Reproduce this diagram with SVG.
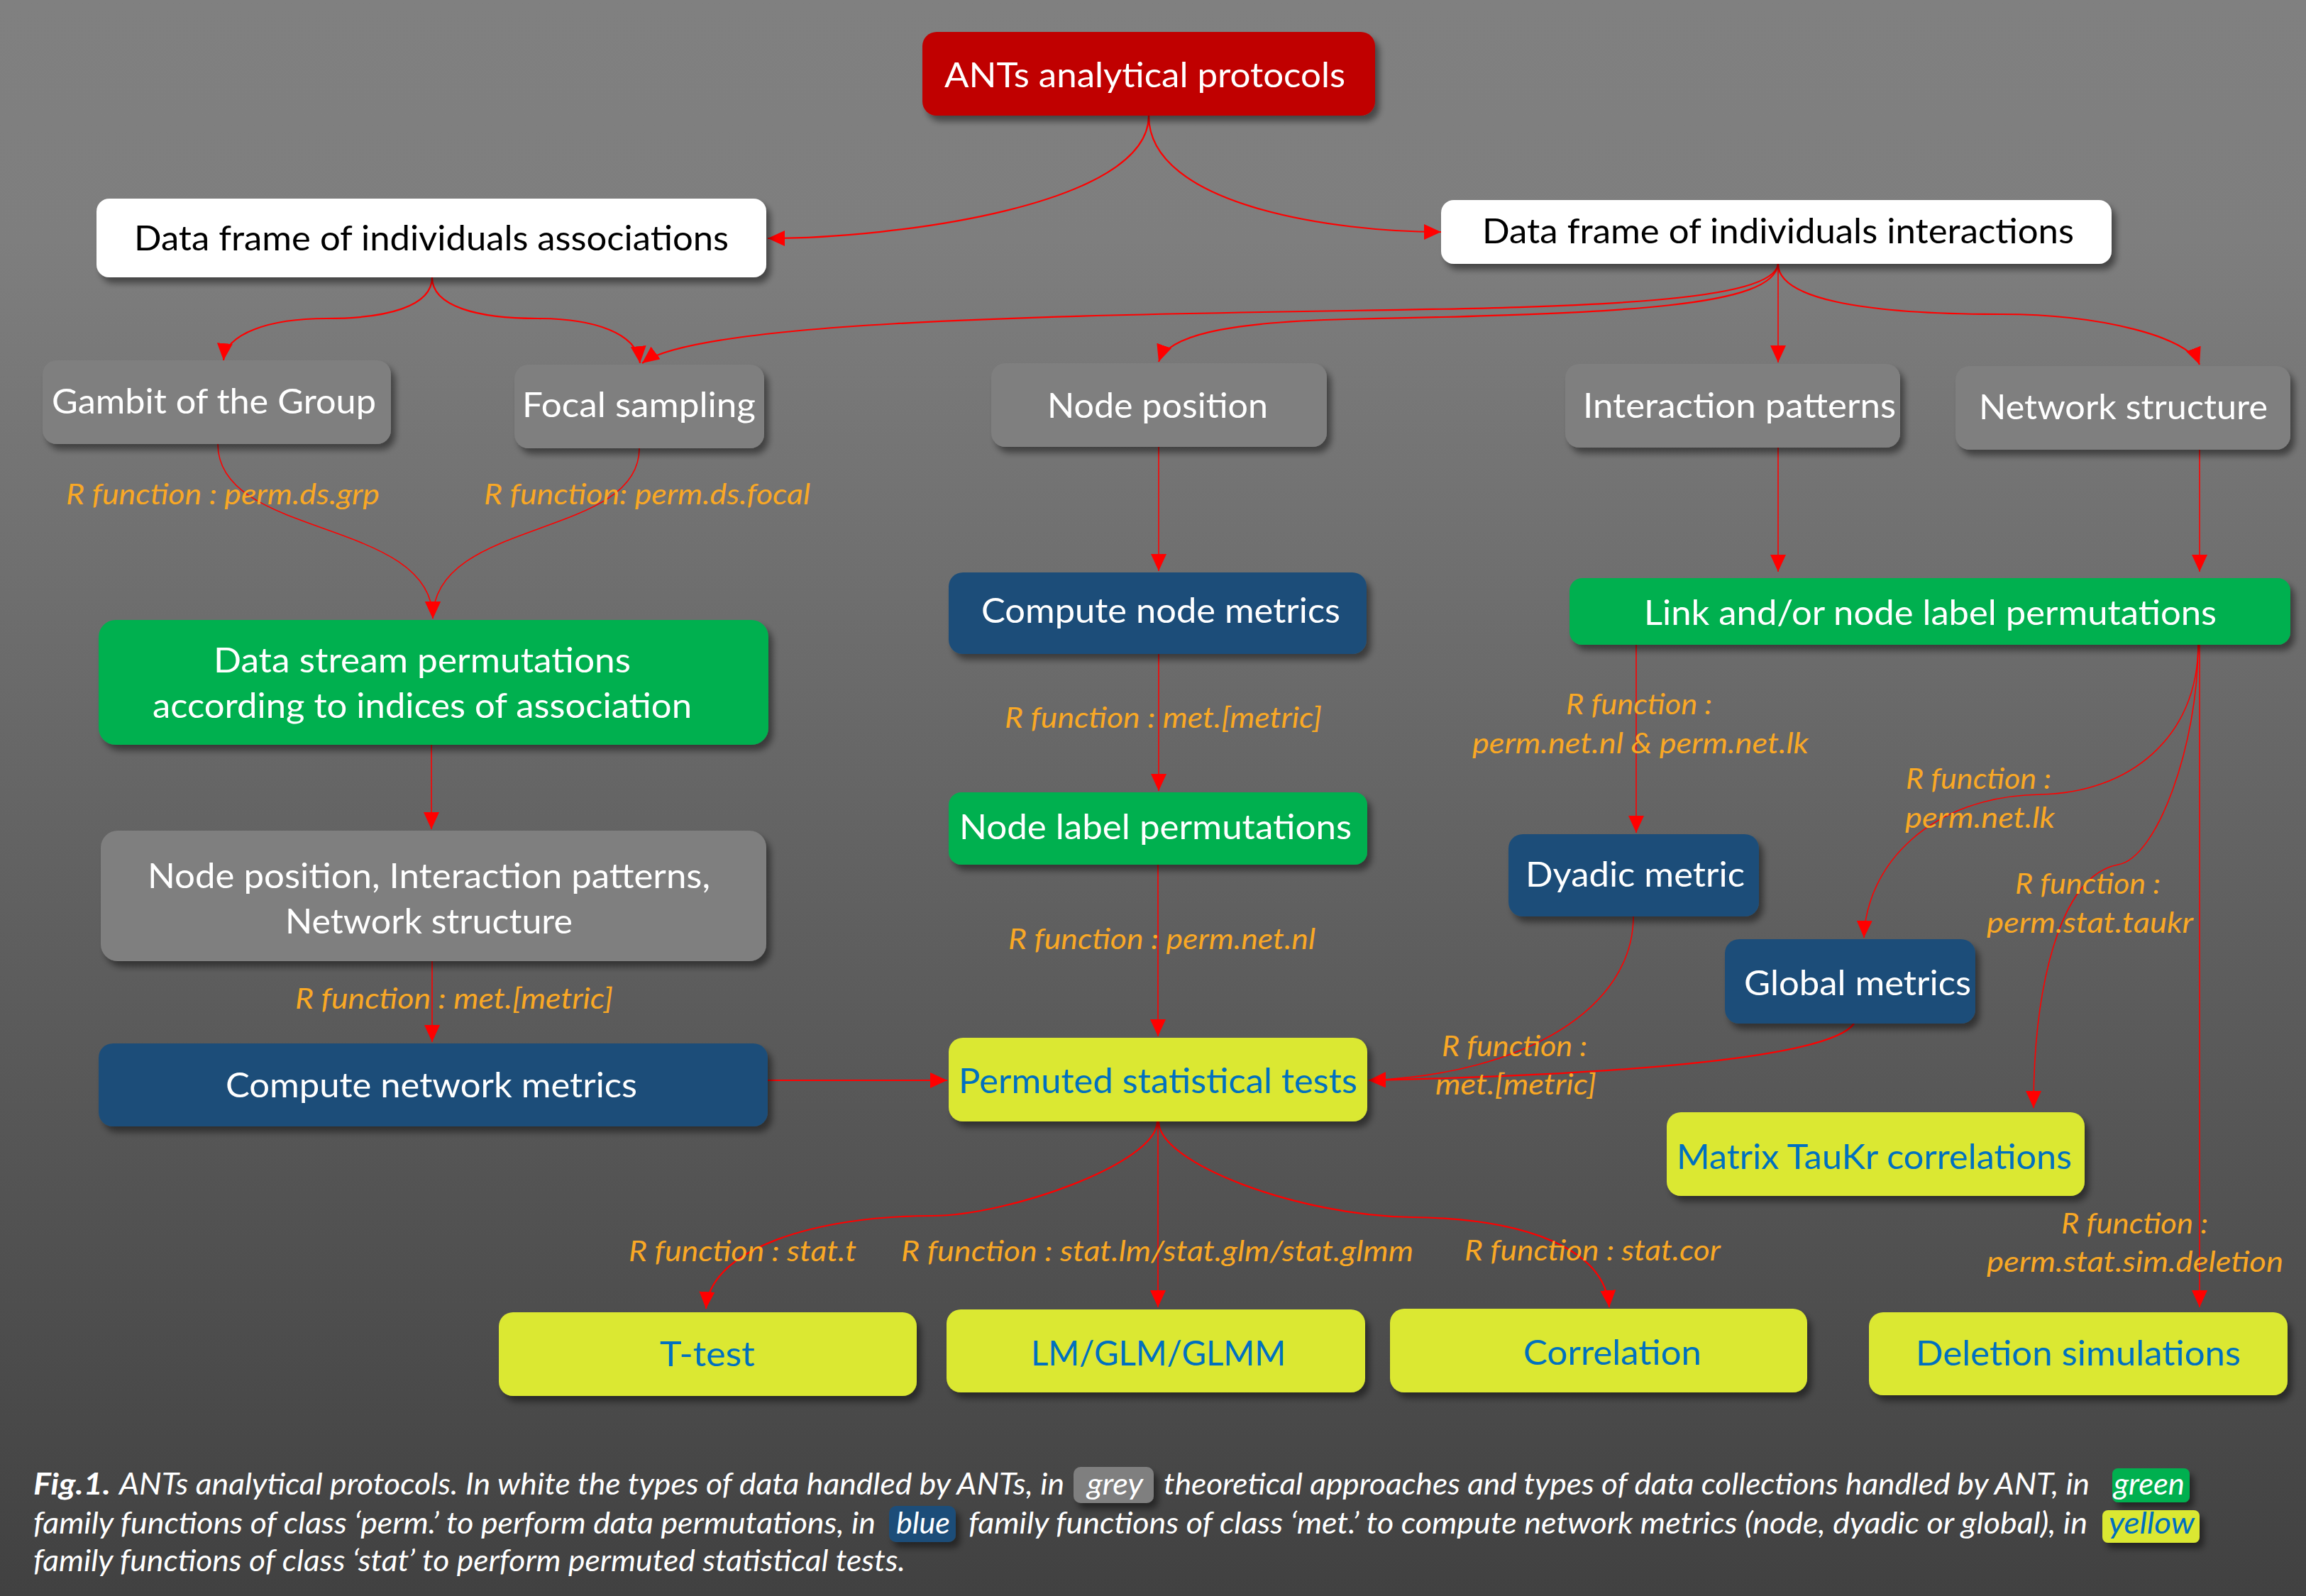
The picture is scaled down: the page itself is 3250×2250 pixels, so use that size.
<svg xmlns="http://www.w3.org/2000/svg" width="3250" height="2250" viewBox="0 0 3250 2250">
<defs>
<linearGradient id="bg" x1="0" y1="0" x2="0" y2="1">
<stop offset="0" stop-color="#808080"/>
<stop offset="0.15" stop-color="#7e7e7e"/>
<stop offset="1" stop-color="#414141"/>
</linearGradient>
<filter id="sh" x="-10%" y="-10%" width="130%" height="150%">
<feDropShadow dx="6" dy="8" stdDeviation="5" flood-color="#000" flood-opacity="0.45"/>
</filter>
<marker id="ah" viewBox="0 0 24 22" refX="24" refY="11" markerWidth="24" markerHeight="22" markerUnits="userSpaceOnUse" orient="auto">
<path d="M0,0 L24,11 L0,22 z" fill="#ff0000"/>
</marker>
<style>
.n{filter:url(#sh)}
.red{fill:#c00000}
.wht{fill:#ffffff}
.gry{fill:#7f7f7f}
.grn{fill:#00b050}
.blu{fill:#1f4e79}
.yel{fill:#dbe830}
text{font-family:Lato,"Open Sans","Liberation Sans",sans-serif}
.t{font-size:48px;fill:#ffffff}
.tk{font-size:48px;fill:#000000}
.ty{font-size:48px;fill:#0070c0}
.lb{font-size:40px;font-style:italic;fill:#f9a825}
.cap{font-size:42px;font-style:italic;fill:#ffffff}
.capb{font-size:42px;font-style:italic;font-weight:bold;fill:#ffffff}
.e{fill:none;stroke:#ff0000;stroke-width:2.2;marker-end:url(#ah)}
.s{fill:none;stroke:#ff0000;stroke-width:1.6;marker-end:url(#ah)}
</style>
</defs>
<rect x="0" y="0" width="3250" height="2250" fill="url(#bg)"/>

<g id="connectors">
<path class="e" d="M1619,163 C1619,290 1260,336 1082,336"/>
<path class="e" d="M1619,163 C1619,290 1880,327 2031,327"/>
<path class="e" d="M609,391 C609,432 545,449 460,449 C380,449 318,470 315,508"/>
<path class="e" d="M609,391 C609,432 673,449 758,449 C838,449 898,470 902,512"/>
<path class="e" d="M2506,372 C2500,425 2250,433 1900,438 C1450,445 980,455 905,512"/>
<path class="e" d="M2506,372 C2500,432 2300,442 1900,450 C1720,454 1645,475 1633,510"/>
<path class="s" d="M2506,372 L2506,511"/>
<path class="e" d="M2506,372 C2506,420 2620,443 2821,443 C2960,443 3085,475 3100,514"/>
<path class="s" d="M307,626 C307,760 610,730 610,872"/>
<path class="s" d="M901,632 C901,760 610,730 610,872"/>
<path class="s" d="M608,1050 L608,1169"/>
<path class="s" d="M609,1355 L609,1469"/>
<path class="e" d="M1082,1523 L1335,1523"/>
<path class="s" d="M1633,630 L1633,805"/>
<path class="s" d="M1633,922 L1633,1115"/>
<path class="s" d="M1632,1219 L1632,1461"/>
<path class="s" d="M2506,631 L2506,806"/>
<path class="s" d="M3100,634 L3100,806"/>
<path class="s" d="M2306,909 L2306,1174"/>
<path class="s" d="M3098,909 C3098,1040 3000,1118 2876,1120 C2720,1122 2630,1220 2627,1322"/>
<path class="s" d="M3098,909 C3098,1050 3040,1210 2985,1219 C2900,1235 2866,1400 2866,1562"/>
<path class="s" d="M3100,909 L3100,1843"/>
<path class="s" d="M2302,1292 C2302,1420 2150,1515 1929,1523"/>
<path class="e" d="M2613,1443 C2580,1490 2300,1515 1929,1523"/>
<path class="e" d="M1631,1581 C1631,1640 1420,1714 1314,1714 C1150,1714 1000,1760 995,1845"/>
<path class="s" d="M1632,1581 L1632,1843"/>
<path class="e" d="M1633,1581 C1633,1640 1830,1714 1990,1716 C2150,1718 2262,1760 2268,1843"/>
</g>

<g id="labels">
<text class="lb" x="93" y="711" textLength="442" lengthAdjust="spacingAndGlyphs">R function : perm.ds.grp</text>
<text class="lb" x="682" y="711" textLength="460" lengthAdjust="spacingAndGlyphs">R function: perm.ds.focal</text>
<text class="lb" x="1416" y="1026" textLength="447" lengthAdjust="spacingAndGlyphs">R function : met.[metric]</text>
<text class="lb" x="1421" y="1338" textLength="433" lengthAdjust="spacingAndGlyphs">R function : perm.net.nl</text>
<text class="lb" x="416" y="1422" textLength="448" lengthAdjust="spacingAndGlyphs">R function : met.[metric]</text>
<text class="lb" x="2207" y="1007" textLength="206" lengthAdjust="spacingAndGlyphs">R function :</text>
<text class="lb" x="2075" y="1062" textLength="474" lengthAdjust="spacingAndGlyphs">perm.net.nl &amp; perm.net.lk</text>
<text class="lb" x="2686" y="1112" textLength="205" lengthAdjust="spacingAndGlyphs">R function :</text>
<text class="lb" x="2685" y="1167" textLength="211" lengthAdjust="spacingAndGlyphs">perm.net.lk</text>
<text class="lb" x="2840" y="1260" textLength="205" lengthAdjust="spacingAndGlyphs">R function :</text>
<text class="lb" x="2800" y="1315" textLength="291" lengthAdjust="spacingAndGlyphs">perm.stat.taukr</text>
<text class="lb" x="2032" y="1489" textLength="205" lengthAdjust="spacingAndGlyphs">R function :</text>
<text class="lb" x="2023" y="1543" textLength="227" lengthAdjust="spacingAndGlyphs">met.[metric]</text>
<text class="lb" x="2905" y="1739" textLength="207" lengthAdjust="spacingAndGlyphs">R function :</text>
<text class="lb" x="2800" y="1793" textLength="418" lengthAdjust="spacingAndGlyphs">perm.stat.sim.deletion</text>
<text class="lb" x="886" y="1778" textLength="321" lengthAdjust="spacingAndGlyphs">R function : stat.t</text>
<text class="lb" x="1270" y="1778" textLength="722" lengthAdjust="spacingAndGlyphs">R function : stat.lm/stat.glm/stat.glmm</text>
<text class="lb" x="2064" y="1777" textLength="361" lengthAdjust="spacingAndGlyphs">R function : stat.cor</text>
</g>

<g id="n-ants"><rect class="n red" x="1300" y="45" width="638" height="118" rx="20"/><text class="t" x="1331" y="123" textLength="565" lengthAdjust="spacingAndGlyphs">ANTs analytical protocols</text></g>
<g id="n-assoc"><rect class="n wht" x="136" y="280" width="944" height="111" rx="18"/><text class="tk" x="189" y="353" textLength="838" lengthAdjust="spacingAndGlyphs">Data frame of individuals associations</text></g>
<g id="n-inter"><rect class="n wht" x="2031" y="282" width="945" height="90" rx="18"/><text class="tk" x="2089" y="343" textLength="834" lengthAdjust="spacingAndGlyphs">Data frame of individuals interactions</text></g>
<g id="n-gambit"><rect class="n gry" x="60" y="508" width="491" height="118" rx="20"/><text class="t" x="73" y="583" textLength="457" lengthAdjust="spacingAndGlyphs">Gambit of the Group</text></g>
<g id="n-focal"><rect class="n gry" x="725" y="514" width="352" height="118" rx="20"/><text class="t" x="736" y="588" textLength="329" lengthAdjust="spacingAndGlyphs">Focal sampling</text></g>
<g id="n-nodepos"><rect class="n gry" x="1397" y="512" width="473" height="118" rx="20"/><text class="t" x="1476" y="589" textLength="311" lengthAdjust="spacingAndGlyphs">Node position</text></g>
<g id="n-interpat"><rect class="n gry" x="2206" y="513" width="472" height="118" rx="20"/><text class="t" x="2231" y="589" textLength="441" lengthAdjust="spacingAndGlyphs">Interaction patterns</text></g>
<g id="n-netstruct"><rect class="n gry" x="2756" y="516" width="472" height="118" rx="20"/><text class="t" x="2789" y="591" textLength="407" lengthAdjust="spacingAndGlyphs">Network structure</text></g>
<g id="n-stream"><rect class="n grn" x="139" y="874" width="944" height="176" rx="24"/><text class="t" x="301" y="948" textLength="588" lengthAdjust="spacingAndGlyphs">Data stream permutations</text><text class="t" x="215" y="1012" textLength="760" lengthAdjust="spacingAndGlyphs">according to indices of association</text></g>
<g id="n-computenode"><rect class="n blu" x="1337" y="807" width="589" height="115" rx="20"/><text class="t" x="1383" y="878" textLength="506" lengthAdjust="spacingAndGlyphs">Compute node metrics</text></g>
<g id="n-link"><rect class="n grn" x="2212" y="815" width="1016" height="94" rx="18"/><text class="t" x="2317" y="881" textLength="807" lengthAdjust="spacingAndGlyphs">Link and/or node label permutations</text></g>
<g id="n-combined"><rect class="n gry" x="142" y="1171" width="938" height="184" rx="24"/><text class="t" x="208" y="1252" textLength="793" lengthAdjust="spacingAndGlyphs">Node position, Interaction patterns,</text><text class="t" x="402" y="1316" textLength="405" lengthAdjust="spacingAndGlyphs">Network structure</text></g>
<g id="n-nodelabel"><rect class="n grn" x="1337" y="1117" width="590" height="102" rx="18"/><text class="t" x="1352" y="1183" textLength="553" lengthAdjust="spacingAndGlyphs">Node label permutations</text></g>
<g id="n-dyadic"><rect class="n blu" x="2126" y="1176" width="353" height="116" rx="20"/><text class="t" x="2150" y="1250" textLength="309" lengthAdjust="spacingAndGlyphs">Dyadic metric</text></g>
<g id="n-global"><rect class="n blu" x="2431" y="1324" width="353" height="119" rx="20"/><text class="t" x="2458" y="1403" textLength="320" lengthAdjust="spacingAndGlyphs">Global metrics</text></g>
<g id="n-computenet"><rect class="n blu" x="139" y="1471" width="943" height="117" rx="20"/><text class="t" x="318" y="1547" textLength="580" lengthAdjust="spacingAndGlyphs">Compute network metrics</text></g>
<g id="n-permuted"><rect class="n yel" x="1337" y="1463" width="590" height="118" rx="20"/><text class="ty" x="1351" y="1541" textLength="562" lengthAdjust="spacingAndGlyphs">Permuted statistical tests</text></g>
<g id="n-taukr"><rect class="n yel" x="2349" y="1568" width="589" height="118" rx="20"/><text class="ty" x="2363" y="1648" textLength="557" lengthAdjust="spacingAndGlyphs">Matrix TauKr correlations</text></g>
<g id="n-ttest"><rect class="n yel" x="703" y="1850" width="589" height="118" rx="20"/><text class="ty" x="930" y="1926" textLength="134" lengthAdjust="spacingAndGlyphs">T-test</text></g>
<g id="n-lm"><rect class="n yel" x="1334" y="1846" width="590" height="117" rx="20"/><text class="ty" x="1453" y="1925" textLength="359" lengthAdjust="spacingAndGlyphs">LM/GLM/GLMM</text></g>
<g id="n-cor"><rect class="n yel" x="1959" y="1845" width="588" height="118" rx="20"/><text class="ty" x="2147" y="1924" textLength="251" lengthAdjust="spacingAndGlyphs">Correlation</text></g>
<g id="n-deletion"><rect class="n yel" x="2634" y="1850" width="590" height="117" rx="20"/><text class="ty" x="2700" y="1925" textLength="458" lengthAdjust="spacingAndGlyphs">Deletion simulations</text></g>

<g id="caption">
<rect class="n gry" x="1513" y="2068" width="113" height="51" rx="10"/>
<rect class="n grn" x="2977" y="2070" width="109" height="48" rx="8"/>
<rect class="n blu" x="1253" y="2123" width="94" height="51" rx="10"/>
<rect class="n yel" x="2963" y="2129" width="137" height="46" rx="8"/>
<text class="capb" x="47" y="2107" textLength="109" lengthAdjust="spacingAndGlyphs">Fig.1.</text>
<text class="cap" x="168" y="2107" textLength="1332" lengthAdjust="spacingAndGlyphs">ANTs analytical protocols. In white the types of data handled by ANTs, in</text>
<text class="cap" x="1532" y="2107" textLength="79" lengthAdjust="spacingAndGlyphs">grey</text>
<text class="cap" x="1640" y="2107" textLength="1305" lengthAdjust="spacingAndGlyphs">theoretical approaches and types of data collections handled by ANT, in</text>
<text class="cap" x="2979" y="2107" textLength="100" lengthAdjust="spacingAndGlyphs">green</text>
<text class="cap" x="47" y="2162" textLength="1187" lengthAdjust="spacingAndGlyphs">family functions of class ‘perm.’ to perform data permutations, in</text>
<text class="cap" x="1263" y="2162" textLength="76" lengthAdjust="spacingAndGlyphs">blue</text>
<text class="cap" x="1365" y="2162" textLength="1577" lengthAdjust="spacingAndGlyphs">family functions of class ‘met.’  to compute network metrics (node, dyadic or global), in</text>
<text class="cap" x="2972" y="2162" textLength="121" lengthAdjust="spacingAndGlyphs" style="fill:#0070c0">yellow</text>
<text class="cap" x="47" y="2215" textLength="1229" lengthAdjust="spacingAndGlyphs">family functions of class ‘stat’ to perform permuted statistical tests.</text>
</g>
</svg>
